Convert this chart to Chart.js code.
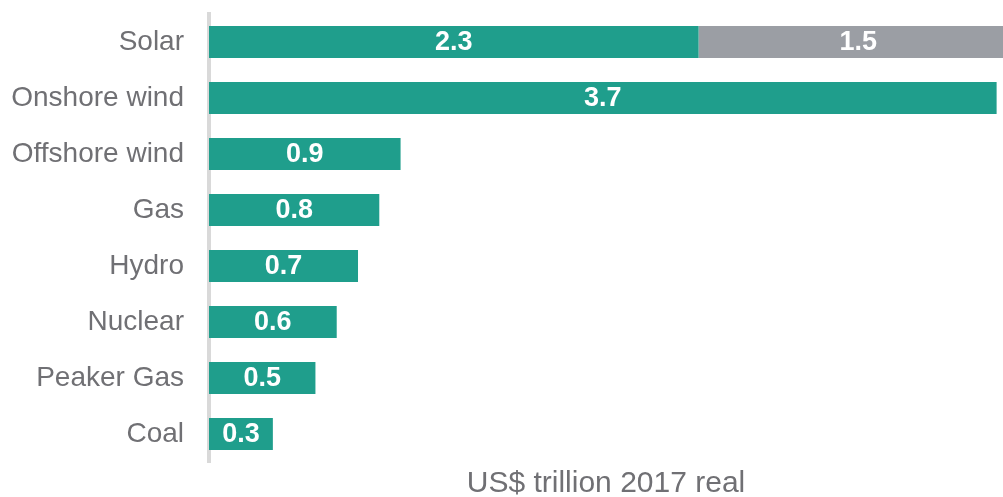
<!DOCTYPE html>
<html>
<head>
<meta charset="utf-8">
<script src="https://cdn.jsdelivr.net/npm/chart.js@4/dist/chart.umd.min.js"></script>
<style>
  html, body { margin: 0; padding: 0; background: #ffffff; }
  #wrap { width: 1003px; height: 497px; }
</style>
</head>
<body>
<div id="wrap"><canvas id="chart" width="1003" height="497"></canvas></div>
<script>
// Cumulative investment by technology, US$ trillion (2017 real)
const technologies = ['Solar', 'Onshore wind', 'Offshore wind', 'Gas', 'Hydro', 'Nuclear', 'Peaker Gas', 'Coal'];
const mainInvestment = [2.3, 3.7, 0.9, 0.8, 0.7, 0.6, 0.5, 0.3];
const extraInvestment = [1.5, null, null, null, null, null, null, null];
const axisTitle = 'US$ trillion 2017 real';

const FONT = '"Liberation Sans", Arial, sans-serif';

// Writes each segment's value in white at the middle of its bar
const valueLabels = {
  id: 'valueLabels',
  afterDatasetsDraw(chart) {
    const ctx = chart.ctx;
    ctx.save();
    ctx.fillStyle = '#ffffff';
    ctx.font = 'bold 27px ' + FONT;
    ctx.textAlign = 'center';
    ctx.textBaseline = 'middle';
    chart.data.datasets.forEach((ds, di) => {
      const meta = chart.getDatasetMeta(di);
      meta.data.forEach((bar, i) => {
        const v = ds.data[i];
        if (v === null || v === undefined) return;
        const c = bar.getCenterPoint();
        ctx.fillText(v.toFixed(1), c.x, c.y + 1);
      });
    });
    ctx.restore();
  }
};

new Chart(document.getElementById('chart'), {
  type: 'bar',
  data: {
    labels: technologies,
    datasets: [
      {
        data: mainInvestment,
        backgroundColor: '#1f9e8c',
        borderWidth: 0,
        barPercentage: 0.57,
        categoryPercentage: 1.0
      },
      {
        data: extraInvestment,
        backgroundColor: '#9b9ea4',
        borderWidth: 0,
        barPercentage: 0.57,
        categoryPercentage: 1.0
      }
    ]
  },
  plugins: [valueLabels],
  options: {
    indexAxis: 'y',
    responsive: false,
    animation: false,
    layout: { padding: { top: 14, right: 0, bottom: 0, left: 0 } },
    plugins: {
      legend: { display: false },
      tooltip: { enabled: false }
    },
    scales: {
      x: {
        stacked: true,
        min: 0,
        max: 3.73,
        grid: { display: false, drawTicks: false },
        border: { display: false },
        ticks: { display: false },
        title: {
          display: true,
          text: axisTitle,
          color: '#707074',
          font: { family: FONT, size: 30, lineHeight: '26px' },
          padding: { top: 9, bottom: 0 }
        }
      },
      y: {
        stacked: true,
        // gap between the category names and the axis line
        grid: { display: false, drawTicks: true, tickLength: 25 },
        border: { display: true, color: '#d9d9d9', width: 4 },
        ticks: {
          color: '#707074',
          padding: 0,
          font: { family: FONT, size: 28, lineHeight: 1 }
        },
        afterFit(scale) { scale.width = 209; }
      }
    }
  }
});
</script>
</body>
</html>
